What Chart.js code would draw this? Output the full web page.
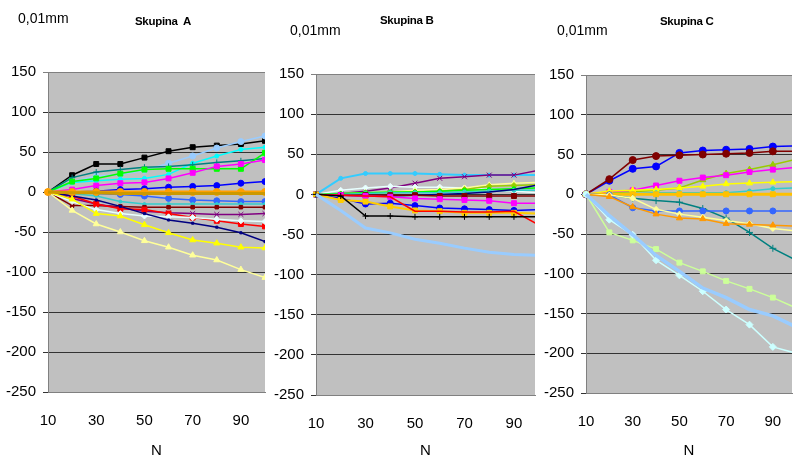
<!DOCTYPE html>
<html>
<head>
<meta charset="utf-8">
<script src="https://cdn.jsdelivr.net/npm/chart.js@4.4.0/dist/chart.umd.min.js"></script>
<style>
    body { margin: 0; background: #fff; width: 797px; height: 456px; position: relative; overflow: hidden;
           font-family: 'Liberation Sans', Arial, sans-serif; color: #000; }
    .panel { position: absolute; top: 0; }
    .unit { position: absolute; font-size: 14px; white-space: pre; }
    .title { position: absolute; font-size: 11.5px; font-weight: bold; white-space: pre; letter-spacing: -0.3px; }
</style>
</head>
<body>
<div class="panel" style="left:0"><canvas id="chartA" width="270" height="460"></canvas></div>
<div class="panel" style="left:270px"><canvas id="chartB" width="270" height="460"></canvas></div>
<div class="panel" style="left:540px"><canvas id="chartC" width="257" height="460"></canvas></div>

<div class="unit" style="left:18px;top:10px">0,01mm</div>
<div class="title" style="left:135px;top:15px">Skupina  A</div>
<div class="unit" style="left:290px;top:22px">0,01mm</div>
<div class="title" style="left:380px;top:14px">Skupina B</div>
<div class="unit" style="left:557px;top:22px">0,01mm</div>
<div class="title" style="left:660px;top:15px">Skupina C</div>

<script>
// x values and axis ticks
const xValues = [10, 20, 30, 40, 50, 60, 70, 80, 90, 100];
const xTicks = [10, 30, 50, 70, 90];
const yTicks = [-250, -200, -150, -100, -50, 0, 50, 100, 150];

// Skupina A
const aBlack   = [0, 21, 35, 35, 43, 51, 56, 58, 60, 64];
const aSky     = [0, 13, 20, 22, 27, 36, 45, 55, 63, 70];
const aCyan    = [0, 12, 14, 16, 17, 22, 36, 45, 53, 56];
const aTeal    = [0, 18, 25, 28, 31, 32, 34, 37, 39, 42];
const aGreen   = [0, 13, 17, 23, 28, 29, 29, 29, 29, 49];
const aMagenta = [0, 3, 8, 11, 12, 17, 24, 32, 35, 40];
const aBlue    = [0, 0, 1, 3, 4, 6, 7, 8, 11, 13];
const aGold    = [0, -1, -1, -2, -2, -2, -2, -2, -2, -2];
const aOrange  = [0, 0, 0, 0, 0, 0, 0, 0, 0, 0];
const aCorn    = [0, -1, -2, -3, -5, -8, -10, -11, -12, -12];
const aTurq    = [0, -2, -5, -12, -15, -15, -15, -15, -15, -15];
const aMaroon  = [0, -17, -17, -18, -19, -19, -19, -19, -19, -19];
const aPurple  = [0, -8, -15, -20, -24, -26, -27, -28, -28, -27];
const aRed     = [0, -5, -15, -21, -22, -27, -32, -36, -40, -43];
const aWhite   = [0, -12, -22, -27, -30, -31, -32, -34, -36, -37];
const aNavy    = [0, -5, -10, -18, -27, -35, -39, -44, -51, -62];
const aYellow  = [0, -9, -27, -30, -41, -51, -60, -64, -69, -70];
const aPale    = [0, -23, -40, -50, -61, -69, -79, -85, -97, -107];

// Skupina B
const bSky     = [0, 20, 26, 26, 26, 25, 24, 24, 24, 24];
const bPurple  = [0, 1, 4, 8, 14, 20, 22, 24, 24, 30];
const bWhite   = [0, 5, 8, 10, 9, 9, 8, 6, 4, 2];
const bPale    = [0, 1, 2, 3, 5, 6, 8, 12, 14, 15];
const bLime    = [0, 0, 2, 2, 3, 4, 6, 10, 11, 12];
const bGreen   = [0, 1, 2, 3, 3, 4, 5, 6, 7, 8];
const bTurq    = [0, 0, 1, 2, 2, 2, 3, 4, 5, 5];
const bNavy    = [0, -1, -2, -2, -1, 0, 1, 3, 6, 12];
const bMaroon  = [0, -1, -1, -1, -1, -2, -2, -2, -2, -2];
const bMagenta = [0, -1, -2, -3, -5, -6, -7, -8, -11, -11];
const bBlue    = [0, -5, -12, -11, -14, -17, -18, -19, -20, -19];
const bRed     = [0, -1, -2, -3, -21, -21, -22, -22, -21, -38];
const bGold    = [0, -7, -9, -15, -20, -21, -23, -23, -23, -24];
const bBlack   = [0, -2, -27, -27, -28, -28, -28, -28, -28, -28];
const bLight   = [0, -20, -42, -48, -56, -61, -67, -72, -75, -76];

// Skupina C
const cBlue    = [0, 17, 32, 35, 52, 55, 56, 57, 60, 61];
const cMaroon  = [0, 19, 43, 48, 49, 50, 51, 52, 54, 54];
const cLime    = [0, 2, 3, 5, 8, 18, 26, 31, 37, 44];
const cMagenta = [0, 3, 5, 11, 17, 21, 24, 28, 31, 34];
const cYellow  = [0, 4, 5, 6, 8, 10, 13, 14, 15, 16];
const cTurq    = [0, 1, 1, 2, 2, 2, 2, 4, 7, 8];
const cOrange  = [0, 0, 0, 0, 0, 0, 0, 0, 0, 0];
const cTeal    = [0, -1, -5, -8, -10, -18, -30, -48, -68, -83];
const cCorn    = [0, -1, -17, -21, -21, -21, -21, -21, -21, -21];
const cPale    = [0, -1, -5, -19, -25, -29, -33, -37, -43, -46];
const cOrange2 = [0, -3, -16, -25, -30, -31, -37, -38, -39, -40];
const cGreen   = [0, -48, -58, -69, -86, -97, -109, -119, -130, -143];
const cCyan    = [0, -32, -51, -83, -102, -122, -145, -164, -192, -200];
const cLight   = [0, -27, -51, -77, -97, -118, -130, -145, -153, -167];

// [data, colour, point style, line width, point radius]
const seriesA = [
    [aGold, '#CC9900', false, 3, 0],
    [aOrange, '#FFA000', 'circle', 3, 3.5],
    [aPale, '#FFFF99', 'triangle', 1.5, 3.5],
    [aYellow, '#FFFF00', 'triangle', 1.5, 3.5],
    [aNavy, '#000080', 'rect', 1.5, 1.5],
    [aWhite, '#E8FFFF', 'rectRot', 1.5, 3],
    [aRed, '#FF0000', 'rect', 1.5, 3.5],
    [aPurple, '#800080', 'crossRot', 1.5, 3.5],
    [aMaroon, '#800000', 'rect', 1.5, 2.5],
    [aTurq, '#33CCCC', 'circle', 1.5, 1.5],
    [aCorn, '#3366FF', 'circle', 1.5, 3],
    [aBlue, '#0000FF', 'circle', 1.5, 3],
    [aMagenta, '#FF00FF', 'rect', 1.5, 3.5],
    [aGreen, '#00FF00', 'rect', 1.5, 3.5],
    [aTeal, '#008080', 'cross', 1.5, 3],
    [aCyan, '#00FFFF', 'circle', 1.5, 2],
    [aSky, '#99CCFF', 'circle', 1.5, 3],
    [aBlack, '#000000', 'rect', 1.5, 3.5]
];

const seriesB = [
    [bLight, '#99CCFF', false, 3, 0],
    [bBlack, '#000000', 'cross', 1.5, 3],
    [bRed, '#FF0000', false, 1.5, 0],
    [bGold, '#FFCC00', 'rect', 2, 3.5],
    [bBlue, '#0000FF', 'circle', 1.5, 3],
    [bMagenta, '#FF00FF', 'rect', 1.5, 3.5],
    [bMaroon, '#800000', 'rect', 1.5, 3.5],
    [bNavy, '#000080', false, 1.5, 0],
    [bTurq, '#33CCCC', 'circle', 1.5, 2],
    [bGreen, '#00FF00', 'circle', 1.5, 2],
    [bLime, '#99CC00', 'rectRot', 1.5, 3],
    [bPale, '#FFFF99', 'triangle', 1.5, 3],
    [bWhite, '#E8FFFF', 'rectRot', 1.5, 3],
    [bPurple, '#800080', 'crossRot', 1.5, 3.5],
    [bSky, '#33CCFF', 'circle', 2, 2]
];

const seriesC = [
    [cLight, '#99CCFF', false, 3.5, 0],
    [cCyan, '#CCFFFF', 'rectRot', 1.5, 3.5],
    [cGreen, '#CCFF99', 'rect', 1.5, 3.5],
    [cOrange2, '#FF9900', 'triangle', 1.5, 3.5],
    [cPale, '#FFFF99', 'rectRot', 1.5, 3],
    [cCorn, '#3366FF', 'circle', 1.5, 3],
    [cTeal, '#008080', 'cross', 1.5, 3.5],
    [cOrange, '#FFC000', 'rect', 3, 3.5],
    [cTurq, '#33CCCC', 'circle', 1.5, 2],
    [cYellow, '#FFFF00', 'triangle', 1.5, 3.5],
    [cMagenta, '#FF00FF', 'rect', 1.5, 3.5],
    [cLime, '#99CC00', 'triangle', 1.5, 3.5],
    [cMaroon, '#800000', 'circle', 1.5, 3.5],
    [cBlue, '#0000FF', 'circle', 1.5, 3.5]
];

const axisFont = { family: "'Liberation Sans', Arial, sans-serif", size: 15 };

// grey plot area like the old Excel charts
const plotBg = {
    id: 'plotBg',
    beforeDraw(chart) {
        const a = chart.chartArea;
        const ctx = chart.ctx;
        ctx.save();
        ctx.fillStyle = '#C0C0C0';
        ctx.fillRect(a.left, a.top, a.right - a.left, a.bottom - a.top);
        ctx.restore();
    }
};

function makeChart(id, series, xMax, box) {
    new Chart(document.getElementById(id), {
        type: 'line',
        data: {
            datasets: series.map(s => ({
                data: s[0].map((v, i) => ({ x: xValues[i], y: v })),
                borderColor: s[1],
                backgroundColor: s[1],
                pointStyle: s[2],
                borderWidth: s[3],
                pointRadius: s[4],
                pointBorderWidth: 1,
                tension: 0,
                clip: { left: false, top: false, right: 0, bottom: false }
            }))
        },
        options: {
            responsive: false,
            animation: false,
            layout: { padding: { top: box.top, right: box.right, bottom: 0, left: 0 } },
            plugins: { legend: { display: false }, tooltip: { enabled: false } },
            scales: {
                x: {
                    type: 'linear',
                    min: 10,
                    max: xMax,
                    afterBuildTicks: s => { s.ticks = xTicks.map(v => ({ value: v })); },
                    afterFit: s => { s.height = 460 - box.bottom; },
                    grid: { display: false },
                    border: { color: '#808080', width: 1 },
                    ticks: { color: '#000', font: axisFont, padding: 12, maxRotation: 0, autoSkip: false },
                    title: { display: true, text: 'N', color: '#000', font: axisFont, padding: 0 }
                },
                y: {
                    min: -250,
                    max: 150,
                    afterBuildTicks: s => { s.ticks = yTicks.map(v => ({ value: v })); },
                    afterFit: s => { s.width = box.left; },
                    grid: {
                        color: c => (c.tick && c.tick.value === 150) ? '#808080' : '#333333',
                        tickLength: 5
                    },
                    border: { color: '#808080', width: 1 },
                    ticks: { color: '#000', font: axisFont, padding: 7 }
                }
            }
        },
        plugins: [plotBg]
    });
}

makeChart('chartA', seriesA, 100, { left: 48, top: 72, right: 2, bottom: 392 });
makeChart('chartB', seriesB, 98.5, { left: 46, top: 74, right: 3, bottom: 395 });
makeChart('chartC', seriesC, 98.2, { left: 46, top: 75, right: 0, bottom: 393 });
</script>
</body>
</html>
